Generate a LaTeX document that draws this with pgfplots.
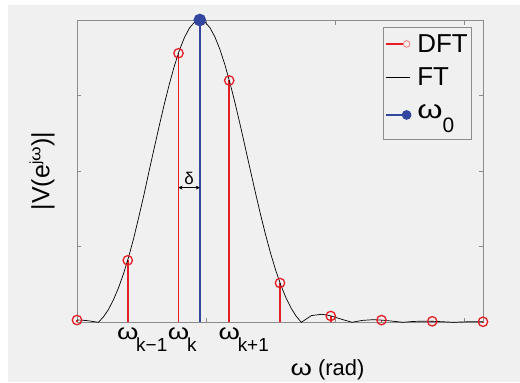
\documentclass[border=0pt]{standalone}
\usepackage{fontspec}
\setmainfont{Liberation Sans}
\usepackage{pgfplots}
\pgfplotsset{compat=1.18}
\usetikzlibrary{arrows.meta}
\definecolor{bggray}{RGB}{240,240,240}
\definecolor{axgray}{RGB}{140,140,140}
\definecolor{dftred}{RGB}{228,30,36}
\definecolor{wblue}{RGB}{50,70,160}
\newcommand{\om}{\scalebox{1.25}[1]{ω}}
\newcommand{\omlab}[1]{\makebox[0pt][c]{\om}\makebox[0pt][l]{\hspace{8.5bp}\raisebox{-11.7bp}{\fontsize{19}{19}\selectfont #1}}}
\pgfplotstableread{
x y
0 0.03
1 0.82
2 3.56
3 3.20
4 0.52
5 0.084
6 0.029
7 0.013
8 0.007
}\dfttable
\begin{document}
\begin{tikzpicture}
\useasboundingbox (-77bp,-60bp) rectangle (443bp,322.3bp);
\fill[white] (-77bp,-60bp) rectangle (443bp,322.3bp);
\fill[bggray] (-69bp,-60bp) rectangle (443bp,317.3bp);
\begin{axis}[
  at={(0,0)}, anchor=south west,
  scale only axis, width=406bp, height=302.3bp,
  xmin=0, xmax=8, ymin=0, ymax=4,
  clip=false,
  axis line style={axgray, line width=0.8bp},
  xtick={2.5465,5.093,7.6394}, xticklabels={},
  ytick={1,2,3}, yticklabels={},
  tick align=inside, major tick length=4.5bp,
  tick style={axgray, line width=0.6bp},
  xlabel={\om\ (rad)},
  ylabel={|V(e\raisebox{9bp}{\fontsize{15}{15}\selectfont j\om})|},
  x label style={at={(axis description cs:0.617,-0.1588)}, anchor=center, font=\fontsize{22}{22}\selectfont},
  y label style={at={(axis description cs:-0.0862,0.5)}, anchor=center, font=\fontsize{25}{25}\selectfont},
  legend style={at={(axis description cs:0.753,0.978)}, anchor=north west,
    draw=axgray, line width=0.6bp, fill=bggray,
    font=\fontsize{26}{26}\selectfont,
    inner xsep=2bp, inner ysep=6bp, row sep=-1.7bp,
    nodes={inner sep=2bp, text height=18bp, text depth=12.7bp, anchor=base west},
    cells={anchor=base west}},
  /tikz/every odd column/.append style={column sep=4bp},
]
\addplot[dftred, line width=1.6bp, ycomb, forget plot] table {\dfttable};
\addplot[dftred, only marks, mark=o,
  mark options={solid, line width=1.3bp, mark size=4.7bp},
  legend image code/.code={
    \draw[dftred, line width=1.2bp] (0bp,9bp) -- (18bp,9bp);
    \draw[dftred!55, line width=0.9bp] (21bp,9bp) circle (3.3bp);}]
  table {\dfttable};
\addlegendentry{DFT}
\addplot[black, line width=0.7bp,
  legend image code/.code={\draw[black, line width=0.7bp] (0bp,9bp) -- (24bp,9bp);}]
  coordinates {
  (0,0.03) (0.1,0.028) (0.2,0.022) (0.3,0.012) (0.42,0)
  (0.52,0.07) (0.62,0.17) (0.72,0.30) (0.82,0.46) (0.92,0.65)
  (1.02,0.87) (1.12,1.12) (1.22,1.40) (1.32,1.69) (1.42,2.00)
  (1.52,2.301) (1.62,2.599) (1.72,2.885) (1.82,3.153) (1.92,3.395)
  (2.02,3.604) (2.12,3.773) (2.22,3.898) (2.32,3.974) (2.42,4.000)
  (2.52,3.974) (2.62,3.898) (2.72,3.773) (2.82,3.604) (2.92,3.395)
  (3.02,3.153) (3.12,2.885) (3.22,2.599) (3.32,2.301) (3.42,2.000)
  (3.52,1.703) (3.62,1.417) (3.72,1.148) (3.82,0.901) (3.92,0.679)
  (4.02,0.485) (4.12,0.321) (4.22,0.186) (4.32,0.079) (4.42,0)
  (4.62,0.089) (4.82,0.106) (4.92,0.097) (5.02,0.081) (5.22,0.039) (5.42,0)
  (5.62,0.025) (5.82,0.034) (5.92,0.032) (6.02,0.028) (6.22,0.015) (6.42,0)
  (6.62,0.011) (6.82,0.015) (7.02,0.013) (7.22,0.007) (7.42,0)
  (7.62,0.0055) (7.82,0.008) (8.0,0.007)};
\addlegendentry{FT}
\addplot[wblue, line width=2bp, ycomb, mark=*,
  mark options={solid, fill=wblue, mark size=5.3bp},
  legend image code/.code={
    \draw[wblue, line width=1.2bp] (0bp,4bp) -- (20bp,4bp);
    \fill[wblue] (21bp,4bp) circle (3.8bp);}]
  coordinates {(2.42,4)};
\addlegendentry{\om\raisebox{-14bp}{\fontsize{21}{21}\selectfont 0}}
\node[anchor=base, inner sep=0pt, yshift=-17bp, font=\fontsize{22}{22}\selectfont] at (axis cs:1,0) {\omlab{k−1}};
\node[anchor=base, inner sep=0pt, yshift=-17bp, font=\fontsize{22}{22}\selectfont] at (axis cs:2,0) {\omlab{k}};
\node[anchor=base, inner sep=0pt, yshift=-17bp, font=\fontsize{22}{22}\selectfont] at (axis cs:3,0) {\omlab{k+1}};
\draw[{Stealth[length=4bp,width=4bp]}-{Stealth[length=4bp,width=4bp]}, line width=0.8bp] (axis cs:2,1.782) -- (axis cs:2.42,1.782);
\node[anchor=south, inner sep=0pt, yshift=3bp, font=\fontsize{17}{17}\selectfont] at (axis cs:2.21,1.782) {δ};
\end{axis}
\end{tikzpicture}
\end{document}
